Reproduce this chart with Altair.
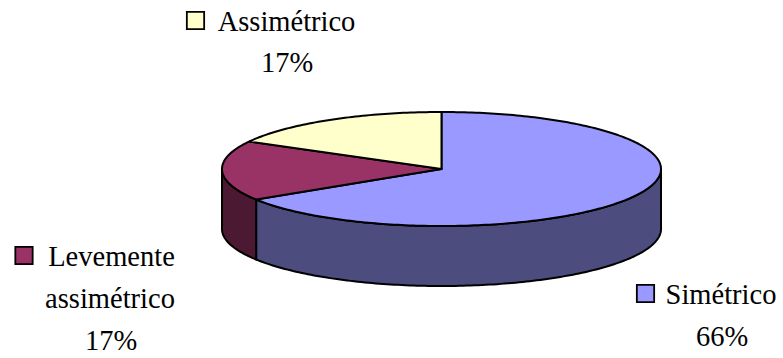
import math
import altair as alt

# Pie contents
categories = ["Simétrico", "Levemente assimétrico", "Assimétrico"]
shares = [66, 17, 17]
top_colors = ["#9999FF", "#993366", "#FFFFCC"]
side_colors = ["#4C4C7F", "#4C1933", "#7F7F66"]

# Tilted-disc geometry, in canvas pixels
CX, CY, RX, RY, DEPTH = 441.5, 169.0, 219.5, 57.0, 60.0


def rim(turn, drop=0.0):
    """Point on the disc edge; turn runs clockwise from 12 o'clock, in degrees."""
    a = math.radians(turn)
    return [CX + RX * math.sin(a), CY - RY * math.cos(a) + drop]


def arc(start, end, drop=0.0, step=1.0):
    n = max(2, int(abs(end - start) / step))
    return [rim(start + (end - start) * i / n, drop) for i in range(n + 1)]


def feature(ring, fill):
    return {
        "type": "Feature",
        "properties": {"fill": fill},
        "geometry": {"type": "Polygon", "coordinates": [ring + [ring[0]]]},
    }


total = sum(shares)
walls, tops = [], []
start = 0.0
for share, top, side in zip(shares, top_colors, side_colors):
    end = start + 360.0 * share / total
    tops.append(feature([[CX, CY]] + arc(start, end), top))
    # Only the front half of the rim (90..270 degrees) shows a wall
    a, b = max(start, 90.0), min(end, 270.0)
    if a < b:
        walls.append(feature(arc(a, b) + arc(b, a, DEPTH), side))
    start = end

faces = alt.InlineData(
    values={"type": "FeatureCollection", "features": walls + tops},
    format=alt.DataFormat(type="json", property="features"),
)

projection = dict(type="identity", scale=1, translate=[0, 0])

pie = (
    alt.Chart(faces)
    .mark_geoshape(stroke="#000000", strokeWidth=2, strokeJoin="round")
    .encode(color=alt.Color("properties.fill:N", scale=None))
    .project(**projection)
)

# Label lines and their legend swatches
label_lines = [
    {"text": "Assimétrico", "lon": 286.5, "lat": 31},
    {"text": "17%", "lon": 287, "lat": 72},
    {"text": "Levemente", "lon": 111.5, "lat": 266},
    {"text": "assimétrico", "lon": 110, "lat": 308},
    {"text": "17%", "lon": 111, "lat": 350},
    {"text": "Simétrico", "lon": 721, "lat": 304},
    {"text": "66%", "lon": 722, "lat": 346},
]
swatches = [
    {"fill": top_colors[2], "lon": 195.5, "lat": 20.5},
    {"fill": top_colors[1], "lon": 24, "lat": 255.5},
    {"fill": top_colors[0], "lon": 645.5, "lat": 293.5},
]

labels = (
    alt.Chart(alt.Data(values=label_lines))
    .mark_text(font="Liberation Serif", fontSize=28.5, color="#000000",
               align="center", baseline="alphabetic")
    .encode(longitude="lon:Q", latitude="lat:Q", text="text:N")
    .project(**projection)
)

keys = (
    alt.Chart(alt.Data(values=swatches))
    .mark_point(shape="square", filled=True, size=300, stroke="#000000",
                strokeWidth=1.8, opacity=1)
    .encode(longitude="lon:Q", latitude="lat:Q",
            color=alt.Color("fill:N", scale=None))
    .project(**projection)
)

chart = (
    alt.layer(pie, keys, labels)
    .properties(width=783, height=358, padding=0, autosize=alt.AutoSizeParams(type="none"))
    .configure_view(stroke=None)
    .configure(background="#FFFFFF")
)

chart.save("out.html", embed_options={"renderer": "svg", "actions": False})
